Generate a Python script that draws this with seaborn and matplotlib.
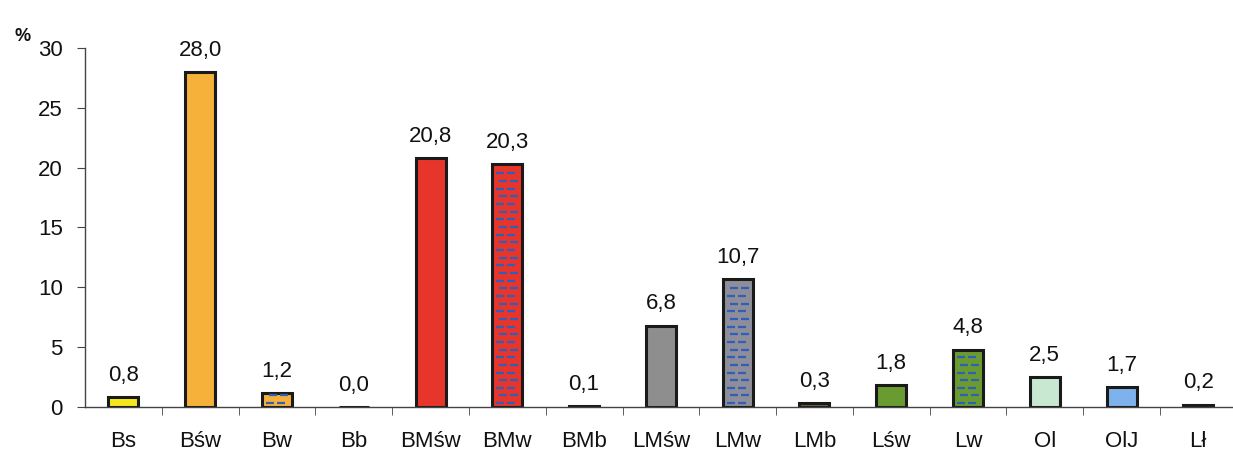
import numpy as np
import pandas as pd
import matplotlib
matplotlib.use("Agg")
import matplotlib.pyplot as plt
import seaborn as sns

# soil types and their share (%)
categories = ["Bs", "Bśw", "Bw", "Bb", "BMśw", "BMw", "BMb", "LMśw", "LMw",
              "LMb", "Lśw", "Lw", "Ol", "OlJ", "Lł"]
values = [0.8, 28.0, 1.2, 0.0, 20.8, 20.3, 0.1, 6.8, 10.7,
          0.3, 1.8, 4.8, 2.5, 1.7, 0.2]
colors = ["#F4E81C", "#F6B13A", "#F6B13A", "#F6B13A", "#E8352B", "#E8352B",
          "#8E2A22", "#8E8E8E", "#8E8D9A", "#6E6440", "#6A9B30", "#6A9B30",
          "#C8E8D2", "#7DB2EC", "#3A3A3A"]
# bars with the blue dashed fill ("wilgotne")
dashed = ["Bw", "BMw", "LMw", "Lw"]

df = pd.DataFrame({"typ": categories, "udzial": values})

sns.set_style("white")
plt.rcParams["font.family"] = ["Liberation Sans", "DejaVu Sans"]

fig = plt.figure(figsize=(12.33, 4.51), dpi=100)
ax = fig.add_axes([0.069, 0.0976, 0.934, 0.796])

sns.barplot(data=df, x="typ", y="udzial", hue="typ",
            palette=dict(zip(categories, colors)), legend=False,
            saturation=1, width=0.39, edgecolor="#1a1a1a", linewidth=2.2,
            ax=ax)

# short blue dashes inside the "wet" bars
step = 0.64
for i, (cat, v) in enumerate(zip(categories, values)):
    if cat not in dashed:
        continue
    ys = np.arange(step / 2, v - 0.15, step)
    xs, yy = [], []
    for k, y in enumerate(ys):
        offs = (-0.09, 0.05) if k % 2 == 0 else (-0.05, 0.09)
        for o in offs:
            xs.append(i + o)
            yy.append(y)
    ax.scatter(xs, yy, marker="_", s=26, color="#2F5FB8", linewidths=1.6,
               zorder=5)

# value labels
for i, v in enumerate(values):
    ax.annotate(f"{v:.1f}".replace(".", ","), (i, v), xytext=(0, 8),
                textcoords="offset points", ha="center", va="bottom",
                fontsize=16, color="#111111")

ax.set_ylim(0, 30)
ax.set_xlim(-0.5, len(categories) - 0.5)
ax.set_yticks(range(0, 31, 5))
ax.set_xlabel("")
ax.set_ylabel("")

for s in ["top", "right"]:
    ax.spines[s].set_visible(False)
for s in ["left", "bottom"]:
    ax.spines[s].set_color("#444444")
    ax.spines[s].set_linewidth(1.0)

ax.tick_params(axis="y", which="major", direction="out", length=6,
               color="#444444", labelsize=16, labelcolor="#111111", pad=10,
               left=True)
ax.tick_params(axis="x", which="major", length=0, labelsize=16,
               labelcolor="#111111", pad=17)
ax.set_xticks(np.arange(0.5, len(categories) - 0.5), minor=True)
ax.tick_params(axis="x", which="minor", direction="out", length=6,
               color="#444444", bottom=True)

fig.text(0.012, 0.91, "%", fontsize=13, fontweight="bold", color="#111111")

fig.savefig("out.png", dpi=100)
